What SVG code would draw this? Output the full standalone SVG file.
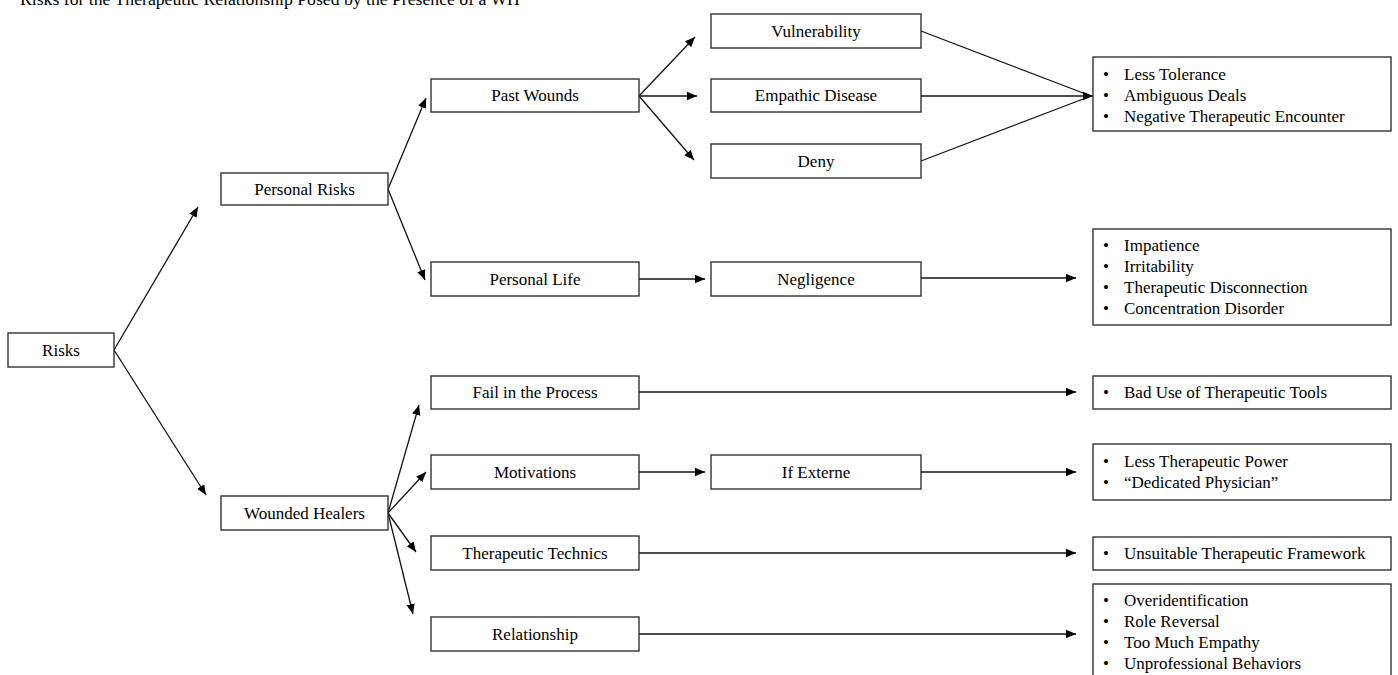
<svg xmlns="http://www.w3.org/2000/svg" width="1398" height="675" viewBox="0 0 1398 675">
<defs>
<marker id="ah" viewBox="0 0 10 10" refX="10" refY="5" markerWidth="10" markerHeight="10" markerUnits="userSpaceOnUse" orient="auto">
<path d="M0,0.8 L10,5 L0,9.2 z" fill="#000"/>
</marker>
<style>
.box{fill:#fff;stroke:#333;stroke-width:1.4}
.t{font-family:"Liberation Serif","Times New Roman",serif;font-size:17px;fill:#000}
.c{text-anchor:middle}
.ln{stroke:#111;stroke-width:1.3;fill:none}
.ar{marker-end:url(#ah)}
</style>
</defs>
<rect width="1398" height="675" fill="#fff"/>
<text class="t" x="20" y="4.5" style="font-size:17.7px">Risks for the Therapeutic Relationship Posed by the Presence of a WH</text>

<g id="connectors">
<line class="ln ar" x1="114" y1="350" x2="198" y2="207"/>
<line class="ln ar" x1="114" y1="350" x2="206" y2="495"/>
<line class="ln ar" x1="388" y1="189" x2="426" y2="98"/>
<line class="ln ar" x1="388" y1="189" x2="425" y2="280"/>
<line class="ln ar" x1="639" y1="96" x2="695" y2="37"/>
<line class="ln ar" x1="639" y1="96" x2="697" y2="96"/>
<line class="ln ar" x1="639" y1="96" x2="694" y2="160"/>
<line class="ln" x1="921" y1="31" x2="1091" y2="96"/>
<line class="ln ar" x1="921" y1="96" x2="1093" y2="96"/>
<line class="ln" x1="921" y1="161" x2="1091" y2="96"/>
<line class="ln ar" x1="639" y1="279" x2="705" y2="279"/>
<line class="ln ar" x1="921" y1="278" x2="1076" y2="278"/>
<line class="ln ar" x1="388" y1="513" x2="419" y2="405"/>
<line class="ln ar" x1="388" y1="513" x2="426" y2="472"/>
<line class="ln ar" x1="388" y1="513" x2="416" y2="552"/>
<line class="ln ar" x1="388" y1="513" x2="413" y2="614"/>
<line class="ln ar" x1="639" y1="392" x2="1076" y2="392"/>
<line class="ln ar" x1="639" y1="472" x2="705" y2="472"/>
<line class="ln ar" x1="921" y1="472" x2="1076" y2="472"/>
<line class="ln ar" x1="639" y1="553" x2="1076" y2="553"/>
<line class="ln ar" x1="639" y1="634" x2="1076" y2="634"/>
</g>

<g id="risks"><rect class="box" x="8" y="333" width="106" height="34"/><text class="t c" x="61" y="356">Risks</text></g>
<g id="personal-risks"><rect class="box" x="221" y="173" width="167" height="32"/><text class="t c" x="304.5" y="195">Personal Risks</text></g>
<g id="wounded-healers"><rect class="box" x="221" y="496" width="167" height="34"/><text class="t c" x="304.5" y="519">Wounded Healers</text></g>

<g id="past-wounds"><rect class="box" x="431" y="79" width="208" height="33"/><text class="t c" x="535" y="101">Past Wounds</text></g>
<g id="personal-life"><rect class="box" x="431" y="262" width="208" height="34"/><text class="t c" x="535" y="285">Personal Life</text></g>
<g id="fail-process"><rect class="box" x="431" y="376" width="208" height="33"/><text class="t c" x="535" y="398">Fail in the Process</text></g>
<g id="motivations"><rect class="box" x="431" y="455" width="208" height="34"/><text class="t c" x="535" y="478">Motivations</text></g>
<g id="therapeutic-technics"><rect class="box" x="431" y="536" width="208" height="34"/><text class="t c" x="535" y="559">Therapeutic Technics</text></g>
<g id="relationship"><rect class="box" x="431" y="617" width="208" height="34"/><text class="t c" x="535" y="640">Relationship</text></g>

<g id="vulnerability"><rect class="box" x="711" y="14" width="210" height="34"/><text class="t c" x="816" y="37">Vulnerability</text></g>
<g id="empathic-disease"><rect class="box" x="711" y="79" width="210" height="33"/><text class="t c" x="816" y="101">Empathic Disease</text></g>
<g id="deny"><rect class="box" x="711" y="144" width="210" height="34"/><text class="t c" x="816" y="167">Deny</text></g>
<g id="negligence"><rect class="box" x="711" y="262" width="210" height="34"/><text class="t c" x="816" y="285">Negligence</text></g>
<g id="if-externe"><rect class="box" x="711" y="455" width="210" height="34"/><text class="t c" x="816" y="478">If Externe</text></g>

<g id="out-past-wounds"><rect class="box" x="1093" y="57" width="298" height="74"/>
<text class="t"><tspan x="1103" y="80">•</tspan><tspan x="1124" y="80">Less Tolerance</tspan><tspan x="1103" y="101">•</tspan><tspan x="1124" y="101">Ambiguous Deals</tspan><tspan x="1103" y="122">•</tspan><tspan x="1124" y="122">Negative Therapeutic Encounter</tspan></text></g>

<g id="out-negligence"><rect class="box" x="1093" y="229" width="298" height="96"/>
<text class="t"><tspan x="1103" y="251">•</tspan><tspan x="1124" y="251">Impatience</tspan><tspan x="1103" y="272">•</tspan><tspan x="1124" y="272">Irritability</tspan><tspan x="1103" y="293">•</tspan><tspan x="1124" y="293">Therapeutic Disconnection</tspan><tspan x="1103" y="314">•</tspan><tspan x="1124" y="314">Concentration Disorder</tspan></text></g>

<g id="out-fail"><rect class="box" x="1093" y="376" width="298" height="33"/>
<text class="t"><tspan x="1103" y="398">•</tspan><tspan x="1124" y="398">Bad Use of Therapeutic Tools</tspan></text></g>

<g id="out-externe"><rect class="box" x="1093" y="444" width="298" height="56"/>
<text class="t"><tspan x="1103" y="467">•</tspan><tspan x="1124" y="467">Less Therapeutic Power</tspan><tspan x="1103" y="488">•</tspan><tspan x="1124" y="488">“Dedicated Physician”</tspan></text></g>

<g id="out-technics"><rect class="box" x="1093" y="537" width="298" height="33"/>
<text class="t"><tspan x="1103" y="559">•</tspan><tspan x="1124" y="559">Unsuitable Therapeutic Framework</tspan></text></g>

<g id="out-relationship"><rect class="box" x="1093" y="584" width="298" height="100"/>
<text class="t"><tspan x="1103" y="606">•</tspan><tspan x="1124" y="606">Overidentification</tspan><tspan x="1103" y="627">•</tspan><tspan x="1124" y="627">Role Reversal</tspan><tspan x="1103" y="648">•</tspan><tspan x="1124" y="648">Too Much Empathy</tspan><tspan x="1103" y="669">•</tspan><tspan x="1124" y="669">Unprofessional Behaviors</tspan></text></g>
</svg>
